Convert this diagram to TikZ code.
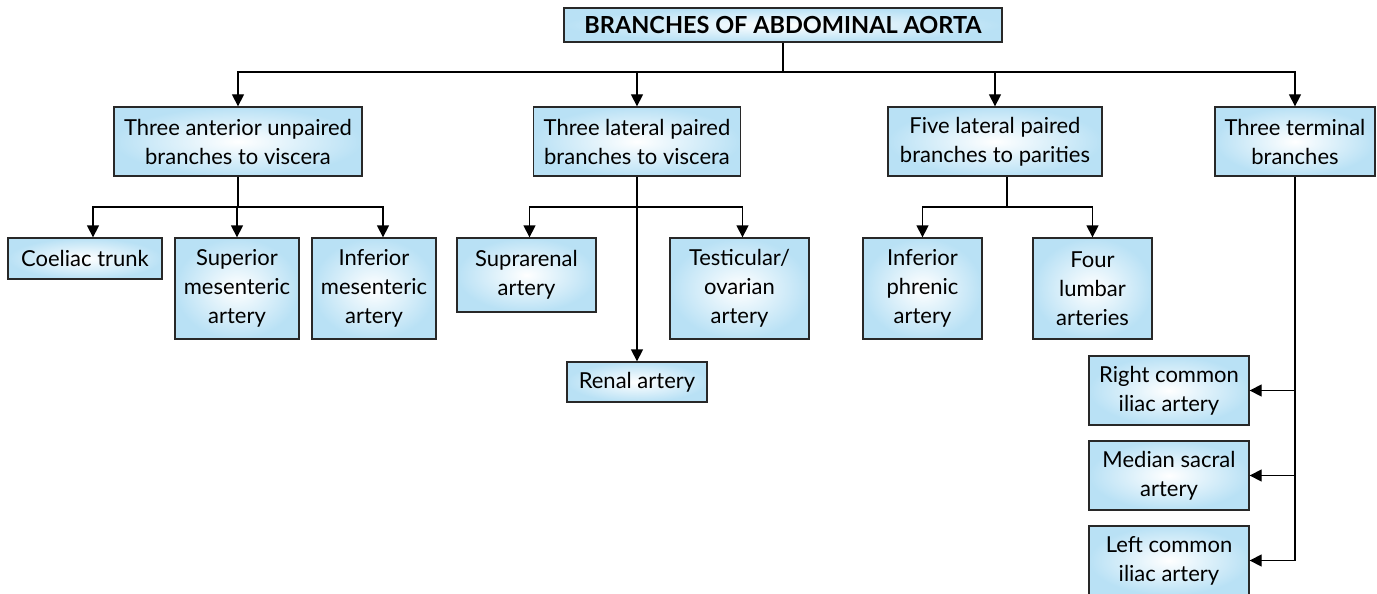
\documentclass[tikz,border=0pt]{standalone}
\usepackage{fontspec}
\setmainfont{Lato}
\usepackage{tikz}
\usetikzlibrary{arrows.meta,positioning,shadings}
\definecolor{boxblue}{RGB}{185,225,245}
\definecolor{edgegray}{RGB}{40,40,40}

\begin{document}
\begin{tikzpicture}[
  x=1pt, y=-1pt,
  box/.style={draw=edgegray, line width=1.3pt, shade, inner color=white, outer color=boxblue,
              align=center, inner sep=0pt, font=\fontsize{22}{29}\selectfont},
  titlebox/.style={box, font=\fontsize{23.5}{26}\selectfont\bfseries},
  link/.style={line width=1.3pt, color=black},
  arr/.style={link, -{Triangle[length=12pt,width=12pt]}}]
\useasboundingbox (0,0) rectangle (1377,594);
% title
\node[titlebox, minimum width=438pt, minimum height=34pt] (title) at (783,25) {BRANCHES OF ABDOMINAL AORTA};
% first level
\node[box, minimum width=248pt, minimum height=69pt] (ant) at (238,141.5) {Three anterior unpaired\\branches to viscera};
\node[box, minimum width=207pt, minimum height=69pt] (lat) at (637,141.5) {Three lateral paired\\branches to viscera};
\node[box, minimum width=214pt, minimum height=69pt] (five) at (995,141.5) {Five lateral paired\\branches to parities};
\node[box, minimum width=160pt, minimum height=69pt] (term) at (1295,141.5) {Three terminal\\branches};
% anterior unpaired
\node[box, minimum width=154pt, minimum height=41pt] (coel) at (85,258.5) {Coeliac trunk};
\node[box, minimum width=124pt, minimum height=101pt] (sup) at (237,288.5) {Superior\\mesenteric\\artery};
\node[box, minimum width=124pt, minimum height=101pt] (inf) at (374,288.5) {Inferior\\mesenteric\\artery};
% lateral paired to viscera
\node[box, minimum width=139pt, minimum height=74pt] (supra) at (526.5,275) {Suprarenal\\artery};
\node[box, minimum width=139pt, minimum height=101pt] (test) at (739.5,288.5) {Testicular/\\ovarian\\artery};
\node[box, minimum width=140pt, minimum height=40pt] (renal) at (637,382) {Renal artery};
% lateral paired to parities
\node[box, minimum width=119pt, minimum height=101pt] (phren) at (922.5,288.5) {Inferior\\phrenic\\artery};
\node[box, minimum width=119pt, minimum height=101pt] (lumb) at (1092.5,288.5) {Four\\lumbar\\arteries};
% terminal
\node[box, minimum width=160pt, minimum height=69pt] (rci) at (1169,390.5) {Right common\\iliac artery};
\node[box, minimum width=160pt, minimum height=69pt] (msa) at (1169,475.5) {Median sacral\\artery};
\node[box, minimum width=160pt, minimum height=69pt] (lci) at (1169,560.5) {Left common\\iliac artery};
% bus points
\coordinate (bus) at (783,72);
\coordinate (antbus) at (238,207);
\coordinate (latbus) at (637,207);
\coordinate (fivebus) at (1007,207);
\coordinate (termend) at (1295,560.5);
% arrows
\draw[link] (title.south) -- (bus);
\draw[arr] (bus) -| (ant.north); \draw[arr] (bus) -| (lat.north);
\draw[arr] (bus) -| (five.north); \draw[arr] (bus) -| (term.north);
\draw[link] (ant.south) -- (antbus);
\draw[arr] (antbus) -| ([xshift=8pt]coel.north); \draw[arr] (antbus) -| (sup.north);
\draw[arr] (antbus) -| ([xshift=9pt]inf.north);
\draw[arr] (lat.south) -- (renal.north);
\draw[arr] (latbus) -| ([xshift=3pt]supra.north); \draw[arr] (latbus) -| ([xshift=3pt]test.north);
\draw[link] ([xshift=12pt]five.south) -- (fivebus);
\draw[arr] (fivebus) -| (phren.north); \draw[arr] (fivebus) -| (lumb.north);
\draw[link] (term.south) -- (termend);
\draw[arr] (termend |- rci) -- (rci.east);
\draw[arr] (termend |- msa) -- (msa.east);
\draw[arr] (termend) -- (lci.east);
\end{tikzpicture}
\end{document}
